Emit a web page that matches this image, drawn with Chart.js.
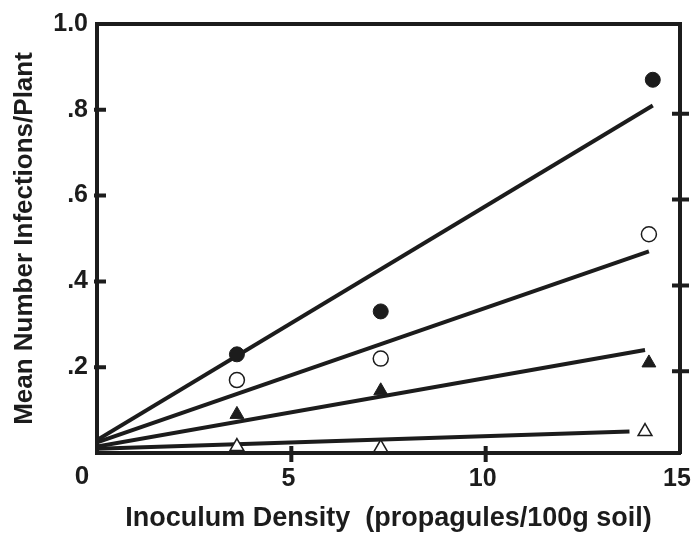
<!DOCTYPE html>
<html>
<head>
<meta charset="utf-8">
<script src="https://cdn.jsdelivr.net/npm/chart.js@4.4.0/dist/chart.umd.min.js"></script>
<style>
    html, body { margin: 0; padding: 0; background: #fff; }
</style>
</head>
<body>
<canvas id="infChart" width="693" height="537"></canvas>
<script>
const filledCircleX = [3.6, 7.3, 14.3];
const filledCircleY = [0.23, 0.33, 0.87];
const openCircleX = [3.6, 7.3, 14.2];
const openCircleY = [0.17, 0.22, 0.51];
const filledTriX = [3.6, 7.3, 14.2];
const filledTriY = [0.09, 0.145, 0.21];
const openTriX = [3.6, 7.3, 14.1];
const openTriY = [0.015, 0.012, 0.05];

// fitted lines: start at x=0, end at fitEndX
const fitStartY = [0.03, 0.025, 0.015, 0.01];
const fitEndX = [14.3, 14.2, 14.1, 13.7];
const fitEndY = [0.81, 0.47, 0.24, 0.05];

const xTickValues = [5, 10, 15];
const yTickValues = [0.2, 0.4, 0.6, 0.8, 1.0];

const ink = '#1c1c1c';
const fontFamily = "'Liberation Sans', Arial, Helvetica, sans-serif";

const toPoints = (xs, ys) => xs.map((x, i) => ({ x: x, y: ys[i] }));

const markerSet = (xs, ys, style, filled) => ({
    data: toPoints(xs, ys),
    showLine: false,
    pointStyle: style,
    pointRadius: style === 'triangle' ? 8 : 7.5,
    pointBackgroundColor: filled ? ink : '#fff',
    pointBorderColor: ink,
    pointBorderWidth: filled ? 1 : 1.5,
    order: 1,
    clip: false
});

const fitLines = fitStartY.map((y0, i) => ({
    data: [{ x: 0, y: y0 }, { x: fitEndX[i], y: fitEndY[i] }],
    showLine: true,
    borderColor: ink,
    borderWidth: 4,
    pointRadius: 0,
    order: 2
}));

// tick marks crossing the frame, plus the corner "0"
const frameTicks = {
    id: 'frameTicks',
    afterDraw(chart) {
        const ctx = chart.ctx;
        const x = chart.scales.x, y = chart.scales.y;
        const area = chart.chartArea;
        ctx.save();
        ctx.strokeStyle = ink;
        ctx.lineWidth = 4;
        ctx.beginPath();
        yTickValues.slice(0, 4).forEach(v => {
            const py = y.getPixelForValue(v);
            ctx.moveTo(area.left - 3, py);
            ctx.lineTo(area.left + 9, py);
            ctx.moveTo(area.right - 8, py + 4);
            ctx.lineTo(area.right + 9, py + 4);
        });
        xTickValues.slice(0, 2).forEach(v => {
            const px = x.getPixelForValue(v);
            ctx.moveTo(px, area.bottom - 7);
            ctx.lineTo(px, area.bottom + 9);
        });
        ctx.stroke();
        ctx.fillStyle = ink;
        ctx.font = 'bold 26px ' + fontFamily;
        ctx.textAlign = 'center';
        ctx.textBaseline = 'middle';
        ctx.fillText('0', area.left - 15, area.bottom + 24);
        ctx.restore();
    }
};

const ctx = document.getElementById('infChart').getContext('2d');
const infChart = new Chart(ctx, {
    type: 'scatter',
    data: {
        datasets: [
            markerSet(filledCircleX, filledCircleY, 'circle', true),
            markerSet(openCircleX, openCircleY, 'circle', false),
            markerSet(filledTriX, filledTriY, 'triangle', true),
            markerSet(openTriX, openTriY, 'triangle', false),
            ...fitLines
        ]
    },
    options: {
        responsive: false,
        animation: false,
        layout: { padding: 0 },
        plugins: {
            legend: { display: false },
            tooltip: { enabled: false }
        },
        scales: {
            x: {
                type: 'linear',
                position: 'bottom',
                min: 0,
                max: 15,
                afterBuildTicks: scale => { scale.ticks = xTickValues.map(v => ({ value: v })); },
                afterFit: scale => {
                    scale.height = 84;
                    scale.paddingRight = 0;
                    scale.paddingLeft = 0;
                },
                border: { display: true, width: 4, color: ink },
                grid: { display: false, drawTicks: false },
                ticks: {
                    padding: 11,
                    labelOffset: -3,
                    color: ink,
                    font: { family: fontFamily, size: 25, weight: 'bold' },
                    maxRotation: 0
                },
                title: {
                    display: true,
                    text: 'Inoculum Density  (propagules/100g soil)',
                    color: ink,
                    font: { family: fontFamily, size: 27, weight: 'bold' },
                    padding: { top: 0, bottom: 2 }
                }
            },
            xTop: {
                type: 'linear',
                position: 'top',
                min: 0,
                max: 15,
                afterFit: scale => { scale.height = 21; },
                border: { display: true, width: 4, color: ink },
                grid: { display: false, drawTicks: false },
                ticks: { display: false }
            },
            y: {
                type: 'linear',
                position: 'left',
                min: 0,
                max: 1,
                afterBuildTicks: scale => { scale.ticks = yTickValues.map(v => ({ value: v })); },
                afterFit: scale => { scale.width = 97; },
                border: { display: true, width: 4, color: ink },
                grid: { display: false, drawTicks: false },
                ticks: {
                    padding: 9,
                    color: ink,
                    font: { family: fontFamily, size: 25, weight: 'bold' },
                    callback: v => v === 1 ? '1.0' : String(v.toFixed(1)).replace(/^0/, '')
                },
                title: {
                    display: true,
                    text: 'Mean Number Infections/Plant',
                    color: ink,
                    font: { family: fontFamily, size: 26, weight: 'bold' },
                    padding: { top: 9, bottom: 0 }
                }
            },
            yRight: {
                type: 'linear',
                position: 'right',
                min: 0,
                max: 1,
                afterFit: scale => { scale.width = 13; },
                border: { display: true, width: 4, color: ink },
                grid: { display: false, drawTicks: false },
                ticks: { display: false }
            }
        }
    },
    plugins: [frameTicks]
});
</script>
</body>
</html>
